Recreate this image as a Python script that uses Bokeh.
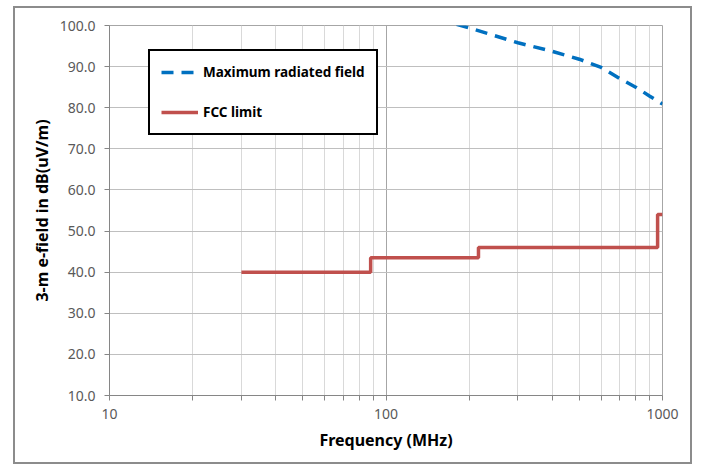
from bokeh.plotting import figure
from bokeh.models import FixedTicker, PrintfTickFormatter, Legend, LegendItem, Range1d
from bokeh.embed import file_html
from bokeh.resources import INLINE

# Maximum radiated field (dB(uV/m)) vs frequency (MHz)
max_freq = [180, 200, 300, 400, 500, 600, 700, 800, 900, 1000]
max_field = [100.3, 99.4, 95.8, 93.7, 91.8, 89.8, 87.1, 85.0, 82.8, 80.9]

# FCC limit: band edges (MHz) and levels (dB(uV/m))
fcc_edges = [30, 88, 216, 960, 1000]
fcc_levels = [40.0, 43.5, 46.0, 54.0]

x_major_ticks = [10, 100, 1000]
x_minor_ticks = [20, 30, 40, 50, 60, 70, 80, 90, 200, 300, 400, 500, 600, 700, 800, 900]
y_ticks = [10, 20, 30, 40, 50, 60, 70, 80, 90, 100]

# step line built from edges/levels
fcc_x, fcc_y = [], []
for i, lvl in enumerate(fcc_levels):
    fcc_x += [fcc_edges[i], fcc_edges[i + 1]]
    fcc_y += [lvl, lvl]

p = figure(width=679, height=458, x_axis_type="log",
           x_range=Range1d(10, 1000), y_range=Range1d(10, 100),
           output_backend="svg", toolbar_location=None,
           min_border_left=94, min_border_right=32, min_border_top=17, min_border_bottom=71,
           background_fill_color="white", border_fill_color="white",
           outline_line_color="#a6a6a6", outline_line_width=1,
           margin=(6, 0, 0, 13),
           styles={"border": "2px solid #8c8c8c"})

r_max = p.line(max_freq, max_field, line_color="#0070c0", line_width=3.5, line_dash="12 8")
r_fcc = p.line(fcc_x, fcc_y, line_color="#c0504d", line_width=3.5)

font = "Noto Sans"
p.xaxis.ticker = FixedTicker(ticks=x_major_ticks, minor_ticks=x_minor_ticks)
p.yaxis.ticker = FixedTicker(ticks=y_ticks)
p.xaxis.formatter = PrintfTickFormatter(format="%d")
p.yaxis.formatter = PrintfTickFormatter(format="%.1f")

for ax in (p.xaxis, p.yaxis):
    ax.axis_line_color = "#868686"
    ax.major_tick_line_color = "#868686"
    ax.minor_tick_line_color = "#868686"
    ax.major_tick_out = 5
    ax.major_tick_in = 0
    ax.major_label_text_font = font
    ax.major_label_text_font_size = "14px"
    ax.major_label_text_color = "#595959"
    ax.axis_label_text_font = font
    ax.axis_label_text_font_size = "16px"
    ax.axis_label_text_font_style = "bold"
    ax.axis_label_text_color = "black"

p.xaxis.minor_tick_out = 5
p.xaxis.minor_tick_in = 0
p.yaxis.minor_tick_line_color = None
p.xaxis.major_label_standoff = 8
p.yaxis.major_label_standoff = 9
p.xaxis.axis_label = "Frequency (MHz)"
p.yaxis.axis_label = "3-m e-field in dB(uV/m)"
p.xaxis.axis_label_standoff = 7
p.yaxis.axis_label_standoff = 4

p.xgrid.grid_line_color = "#a6a6a6"
p.xgrid.minor_grid_line_color = "#d9d9d9"
p.ygrid.grid_line_color = "#bfbfbf"

legend = Legend(items=[LegendItem(label="Maximum radiated field", renderers=[r_max]),
                       LegendItem(label="FCC limit", renderers=[r_fcc])],
                location=(39, 260), margin=0, padding=11, spacing=20,
                glyph_width=37, glyph_height=20, label_height=20, label_standoff=5,
                border_line_color="black", border_line_width=2, border_line_alpha=1.0,
                background_fill_color="white", background_fill_alpha=1.0,
                label_text_font=font, label_text_font_size="13.5px",
                label_text_font_style="bold", label_text_color="black")
p.add_layout(legend)

open("out.html", "w").write(file_html(p, INLINE))
